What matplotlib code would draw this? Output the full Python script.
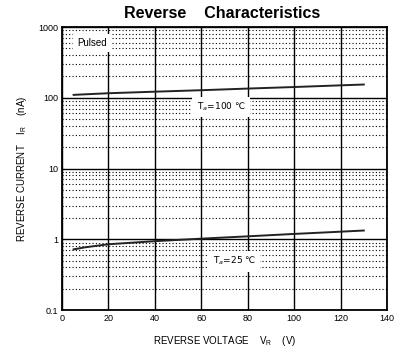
import matplotlib
matplotlib.use("Agg")
import matplotlib.pyplot as plt
from matplotlib.ticker import FixedLocator, LogLocator, NullFormatter, FixedFormatter

plt.rcParams['font.family'] = ['Liberation Sans', 'DejaVu Sans']
plt.rcParams['mathtext.fontset'] = 'custom'
plt.rcParams['mathtext.rm'] = 'Liberation Sans'
plt.rcParams['mathtext.it'] = 'Liberation Sans'
plt.rcParams['mathtext.bf'] = 'Liberation Sans:bold'

# Data
v_100 = [5, 10, 20, 40, 60, 80, 100, 120, 130]
i_100 = [110, 112, 116, 122, 128, 135, 142, 150, 154]
v_25 = [5, 10, 20, 40, 60, 80, 100, 120, 130]
i_25 = [0.72, 0.77, 0.85, 0.94, 1.02, 1.10, 1.19, 1.28, 1.33]

x_ticks = [0, 20, 40, 60, 80, 100, 120, 140]
y_ticks = [0.1, 1, 10, 100, 1000]
y_tick_labels = ["0.1", "1", "10", "100", "1000"]

fig = plt.figure(figsize=(4.06, 3.56), dpi=100)
ax = fig.add_axes([0.1527, 0.1292, 0.8005, 0.7948])

ax.set_yscale("log")
ax.set_xlim(0, 140)
ax.set_ylim(0.1, 1000)

ax.xaxis.set_major_locator(FixedLocator(x_ticks))
ax.yaxis.set_major_locator(FixedLocator(y_ticks))
ax.yaxis.set_major_formatter(FixedFormatter(y_tick_labels))
ax.yaxis.set_minor_locator(LogLocator(base=10, subs=range(2, 10)))
ax.yaxis.set_minor_formatter(NullFormatter())

ax.grid(which="major", axis="both", color="black", linewidth=1.0, linestyle="-")
ax.grid(which="minor", axis="y", color="black", linewidth=0.8, linestyle=(0, (1, 2)))
ax.set_axisbelow(True)

ax.tick_params(which="both", length=0, labelsize=6.5, pad=3)
for s in ax.spines.values():
    s.set_linewidth(1.3)

ax.plot(v_100, i_100, color="#222222", linewidth=1.4, zorder=3)
ax.plot(v_25, i_25, color="#222222", linewidth=1.4, zorder=3)

box = dict(facecolor="white", edgecolor="none", pad=3)
ax.text(6.5, 590, "Pulsed", fontsize=7, ha="left", va="center", bbox=box, zorder=4)
ax.text(58, 74, "T$_a$=100 \u2103", fontsize=6.5, ha="left", va="center", bbox=box,
        zorder=4, family="DejaVu Sans", math_fontfamily="dejavusans")
ax.text(65, 0.49, "T$_a$=25 \u2103", fontsize=6.5, ha="left", va="center", bbox=box,
        zorder=4, family="DejaVu Sans", math_fontfamily="dejavusans")

fig.text(0.547, 0.963, "Reverse    Characteristics", fontsize=11.5, fontweight="bold",
         ha="center", va="center")
ax.set_xlabel("REVERSE VOLTAGE    V$_R$    (V)", fontsize=7, labelpad=8)
ax.set_ylabel("REVERSE CURRENT    I$_R$    (nA)", fontsize=7, labelpad=6)

fig.savefig("out.png", dpi=100)
